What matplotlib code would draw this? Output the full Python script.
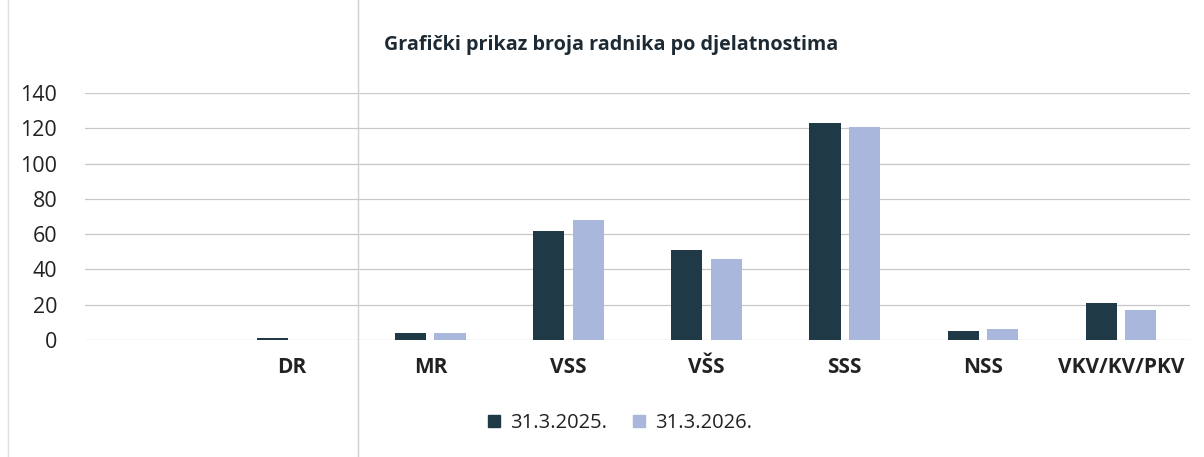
import numpy as np
import matplotlib.pyplot as plt
from matplotlib.lines import Line2D

# Data
categories = ["", "DR", "MR", "VSS", "VŠS", "SSS", "NSS", "VKV/KV/PKV"]
values_2025 = [0, 1, 4, 62, 51, 123, 5, 21]
values_2026 = [0, 0, 4, 68, 46, 121, 6, 17]
series_names = ["31.3.2025.", "31.3.2026."]
y_ticks = [0, 20, 40, 60, 80, 100, 120, 140]

dark = "#1f3a46"
light = "#aab7dc"

plt.rcParams["font.family"] = ["Open Sans", "DejaVu Sans"]

fig = plt.figure(figsize=(12.04, 4.57), dpi=100)
ax = fig.add_axes([85 / 1204, 1 - 340 / 457, (1190 - 85) / 1204, (340 - 93) / 457])

x = np.arange(len(categories))
w = 0.225
gap = 0.03
ax.bar(x - w / 2 - gap, values_2025, width=w, color=dark, zorder=3)
ax.bar(x + w / 2 + gap, values_2026, width=w, color=light, zorder=3)

ax.set_xlim(-0.5, len(categories) - 0.5)
ax.set_ylim(0, 140)
ax.set_yticks(y_ticks)
ax.set_yticklabels([str(t) for t in y_ticks], fontsize=15.5, color="#222222")
ax.set_xticks(x)
ax.set_xticklabels(categories, fontsize=15, fontweight="bold", color="#222222")
ax.tick_params(axis="both", length=0)
ax.tick_params(axis="y", pad=20)
ax.tick_params(axis="x", pad=12)

ax.grid(axis="y", color="#c8c8c8", linewidth=0.9, zorder=0)
for s in ax.spines.values():
    s.set_visible(False)

fig.text(611 / 1204, 1 - 45 / 457, "Grafički prikaz broja radnika po djelatnostima",
         ha="center", va="center", fontsize=14.2, fontweight="bold", color="#1d2a33")

handles = [Line2D([], [], marker="s", linestyle="none", markersize=9, color=c)
           for c in (dark, light)]
fig.legend(handles, series_names, loc="center", bbox_to_anchor=(613 / 1204, 1 - 423 / 457),
           ncol=2, frameon=False, fontsize=14.5, handletextpad=-0.2, columnspacing=0.6,
           labelcolor="#222222")

# scan artifacts: faint page lines
fig.add_artist(Line2D([358 / 1204, 358 / 1204], [0, 1], color="#d0d0d0", linewidth=1))
fig.add_artist(Line2D([8 / 1204, 8 / 1204], [0, 1], color="#e0e0e0", linewidth=1))

fig.savefig("out.png", dpi=100, facecolor="white")
